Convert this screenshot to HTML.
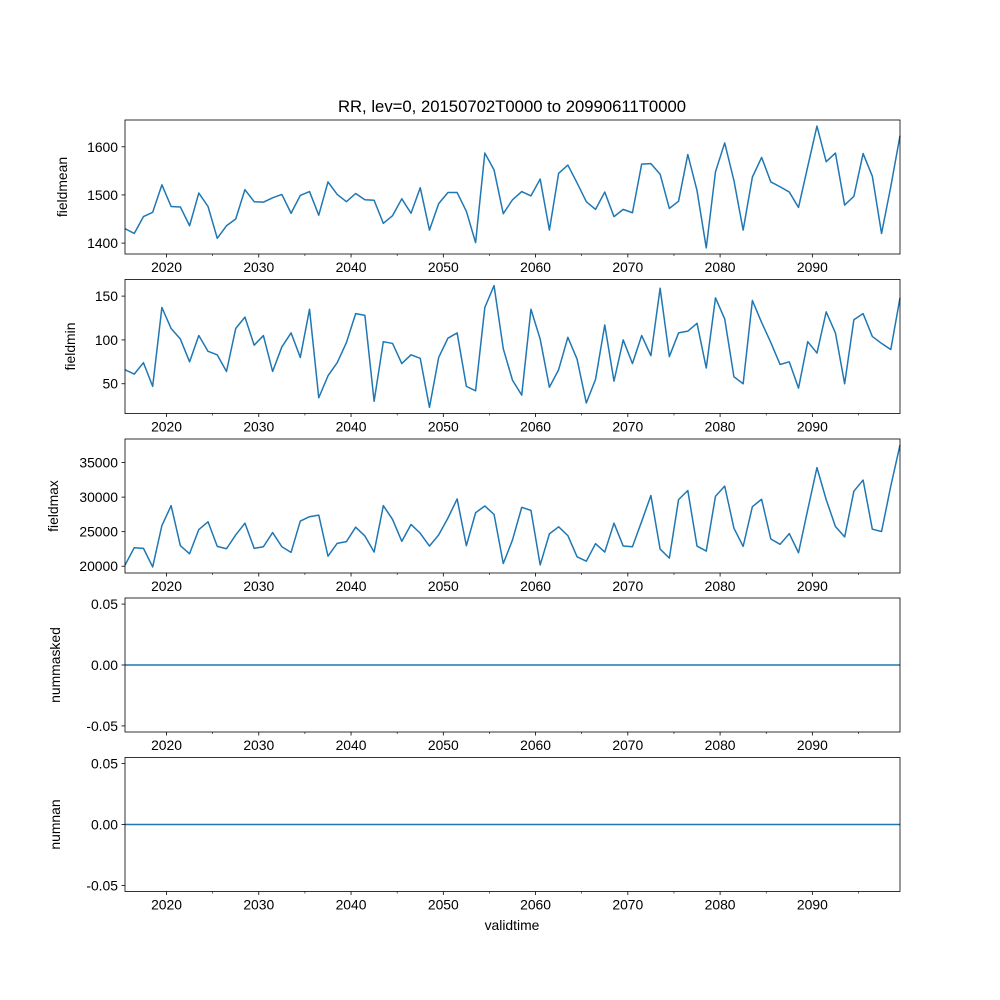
<!DOCTYPE html>
<html><head><meta charset="utf-8"><style>
body{margin:0;background:#fff}
svg{display:block;font-family:"Liberation Sans","DejaVu Sans",sans-serif}
</style></head><body>
<svg id="fig" width="1000" height="1000" viewBox="0 0 1000 1000">
<rect width="1000" height="1000" fill="#fff"/>
<text x="512" y="112" font-size="16.7" text-anchor="middle">RR, lev=0, 20150702T0000 to 20990611T0000</text>
<text x="512" y="930" font-size="13.9" text-anchor="middle">validtime</text>
</svg>
<script>
const fieldmean=[1430,1420,1455,1464,1521,1476,1475,1436,1504,1476,1410,1436,1450,1511,1486,1485,1494,1501,1462,1499,1507,1458,1527,1501,1486,1503,1490,1489,1441,1457,1492,1462,1515,1427,1482,1505,1505,1466,1401,1587,1552,1461,1490,1507,1498,1533,1427,1545,1562,1525,1486,1470,1506,1455,1470,1463,1564,1565,1543,1472,1487,1584,1509,1390,1548,1608,1530,1427,1537,1578,1527,1517,1506,1474,1559,1643,1569,1587,1479,1497,1586,1539,1420,1517,1623];
const fieldmin=[66,61,74,47,137,113,101,75,105,87,83,64,113,126,94,105,64,92,108,80,135,34,59,74,97,130,128,30,98,96,73,83,79,23,80,102,108,47,42,137,162,90,54,37,135,101,46,66,103,78,28,55,117,53,100,73,105,82,159,81,108,110,119,68,148,124,58,50,145,120,97,72,75,45,98,85,132,108,50,123,130,104,96,89,148];
const fieldmax=[20150,22680,22580,19900,25890,28770,22970,21800,25310,26430,22870,22530,24530,26230,22580,22820,24870,22820,22000,26530,27160,27400,21460,23310,23560,25650,24380,22050,28770,26770,23600,26040,24770,22920,24530,26960,29740,22970,27740,28720,27500,20390,23800,28520,28080,20190,24680,25700,24430,21360,20730,23260,22050,26230,22920,22820,26480,30230,22480,21170,29640,30960,22920,22190,30130,31590,25500,22870,28620,29690,23940,23170,24720,21950,28180,34270,29640,25750,24240,30860,32470,25360,25020,31590,37530];
const nummasked=new Array(85).fill(0);
const numnan=new Array(85).fill(0);
const startYear=2015.5;
const xTicks=[2020,2030,2040,2050,2060,2070,2080,2090];
const xMinor=[2025,2035,2045,2055,2065,2075,2085,2095];
const ticks1=[1400,1500,1600], ticks2=[50,100,150], ticks3=[20000,25000,30000,35000], ticks0=[-0.05,0,0.05];

const svg=document.getElementById('fig');
const NS='http://www.w3.org/2000/svg';
const L=125,R=900;
const xmin=startYear, xmax=startYear+84;
function xs(t){return L+(t-xmin)/(xmax-xmin)*(R-L);}
function el(tag,attrs,parent){const e=document.createElementNS(NS,tag);for(const k in attrs)e.setAttribute(k,attrs[k]);(parent||svg).appendChild(e);return e;}

const panels=[
 {name:'fieldmean',data:fieldmean,ticks:ticks1,top:120,lx:67,fmt:v=>String(v)},
 {name:'fieldmin',data:fieldmin,ticks:ticks2,top:279.5,lx:75,fmt:v=>String(v)},
 {name:'fieldmax',data:fieldmax,ticks:ticks3,top:439,lx:58,fmt:v=>String(v)},
 {name:'nummasked',data:nummasked,ticks:ticks0,top:598,lx:60,fmt:v=>v.toFixed(2),fixed:[-0.055,0.055]},
 {name:'numnan',data:numnan,ticks:ticks0,top:757.5,lx:60,fmt:v=>v.toFixed(2),fixed:[-0.055,0.055]}
];
const H=134;
panels.forEach(p=>{
 const g=el('g',{});
 
 
 let lo,hi;
 if(p.fixed){[lo,hi]=p.fixed;}else{const mn=Math.min(...p.data),mx=Math.max(...p.data);const m=(mx-mn)*0.05;lo=mn-m;hi=mx+m;}
 const T=p.top,B=p.top+H;
 const ys=v=>B-(v-lo)/(hi-lo)*H;
 // line
 const pts=p.data.map((v,i)=>xs(startYear+i).toFixed(2)+','+ys(v).toFixed(2)).join(' ');
 const line=el('polyline',{points:pts,fill:'none',stroke:'#1f77b4','stroke-width':1.5,'stroke-linejoin':'round'},g);
 
 
 // frame
 const fr=el('rect',{x:L,y:T,width:R-L,height:H,fill:'none',stroke:'#000','stroke-width':0.8},g);
 
 
 // y ticks
 p.ticks.forEach(v=>{
  const y=ys(v);
  el('line',{x1:L-3.5,x2:L,y1:y,y2:y,stroke:'#000','stroke-width':0.8},g);
  const t=el('text',{x:L-7,y:y+5,'font-size':13.9,'text-anchor':'end'},g);
  t.textContent=p.fmt(v);
  
  
 });
 // x ticks
 xTicks.forEach(yr=>{
  const x=xs(yr);
  el('line',{x1:x,x2:x,y1:B,y2:B+3.5,stroke:'#000','stroke-width':0.8},g);
  const t=el('text',{x:x,y:B+18,'font-size':13.9,'text-anchor':'middle'},g);
  t.textContent=String(yr);
  
  
 });
 xMinor.forEach(yr=>{const x=xs(yr);el('line',{x1:x,x2:x,y1:B,y2:B+2,stroke:'#000','stroke-width':0.6},g);});
 const yl=el('text',{x:p.lx,y:T+H/2,'font-size':13.9,'text-anchor':'middle',transform:`rotate(-90 ${p.lx} ${T+H/2})`},g);
 yl.textContent=p.name;
 
 
});
</script>
</body></html>
